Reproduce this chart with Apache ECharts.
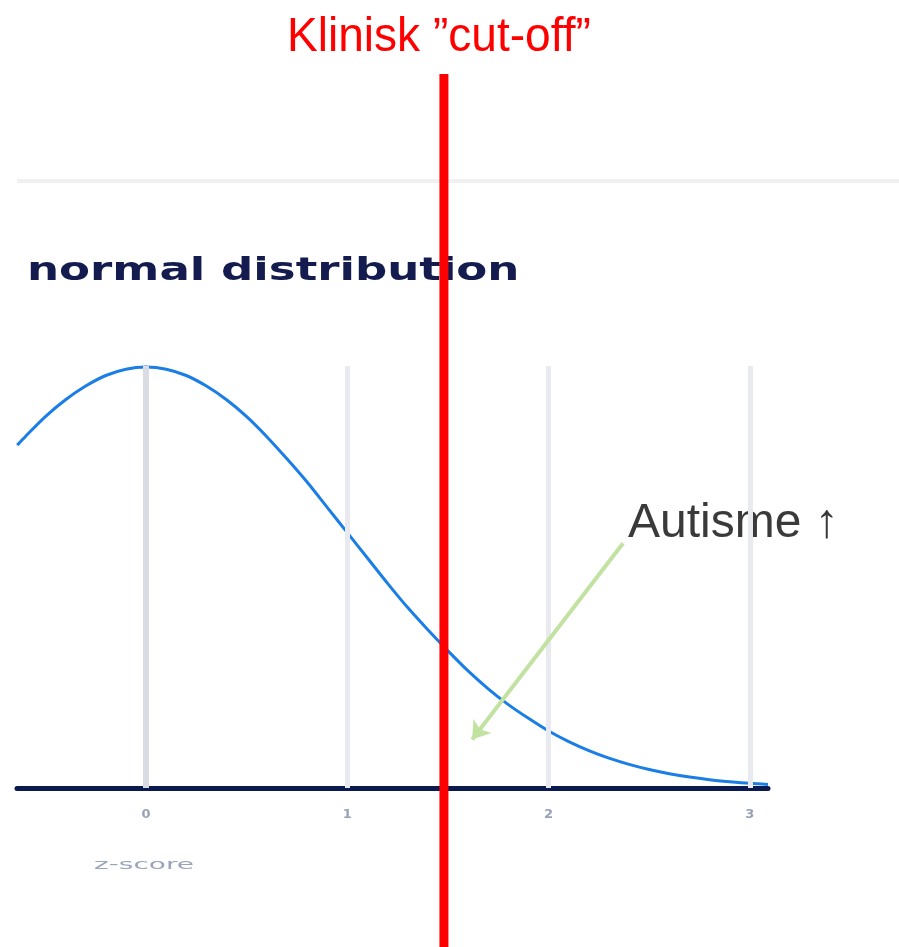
<!DOCTYPE html>
<html>
<head>
<meta charset="utf-8">
<script src="https://cdn.jsdelivr.net/npm/echarts@6/dist/echarts.min.js"></script>
<style>
  html, body { margin: 0; padding: 0; background: #fff; }
  #chart { width: 899px; height: 947px; }
</style>
</head>
<body>
<div id="chart"></div>
<script>
// z-score along the axis and the curve height
const zValues = [-0.64, -0.6, -0.5, -0.4, -0.3, -0.2, -0.1, 0, 0.1, 0.2, 0.3, 0.4, 0.5, 0.6, 0.7, 0.8, 0.9, 1.0,
  1.1, 1.2, 1.3, 1.4, 1.5, 1.6, 1.7, 1.8, 1.9, 2.0, 2.1, 2.2, 2.3, 2.4, 2.5, 2.6, 2.7, 2.8, 2.9, 3.0, 3.09]
const density = [0.325, 0.333, 0.352, 0.368, 0.381, 0.391, 0.397, 0.399, 0.397, 0.391, 0.381, 0.368, 0.352, 0.333, 0.312, 0.290, 0.266, 0.242,
  0.218, 0.194, 0.171, 0.150, 0.130, 0.111, 0.094, 0.079, 0.066, 0.054, 0.044, 0.0355, 0.0283, 0.0224, 0.0175, 0.0136, 0.0104, 0.0079, 0.006, 0.0044, 0.0034]
const tickValues = [0, 1, 2, 3]
const cutOff = 1.48
// annotation arrow, in data units
const arrowFrom = [2.37, 0.232]
const arrowTo = [1.62, 0.046]

const chart = echarts.init(document.getElementById('chart'))

chart.setOption({
  animation: false,
  grid: { left: 17, right: 131, top: 366, bottom: 159 },
  xAxis: {
    type: 'value',
    min: -0.641,
    max: 3.09,
    axisLine: { show: true, onZero: false, lineStyle: { color: '#0b1a4e', width: 5 } },
    axisTick: { show: false },
    splitLine: { show: false },
    axisLabel: {
      customValues: tickValues,
      margin: 20,
      fontSize: 13,
      fontWeight: 'bold',
      fontFamily: 'DejaVu Sans',
      color: '#97a2b8'
    }
  },
  yAxis: { type: 'value', min: 0, max: 0.4, show: false },
  series: [
    {
      // grid lines
      type: 'line',
      data: [],
      z: 1,
      markLine: {
        silent: true,
        symbol: 'none',
        label: { show: false },
        data: tickValues.map((v) => ({
          xAxis: v,
          lineStyle: { color: v === 0 ? '#d9dce3' : '#e9eaef', width: v === 0 ? 6 : 5, type: 'solid' }
        }))
      }
    },
    {
      // green arrow
      type: 'line',
      data: [],
      z: 3,
      markLine: {
        silent: true,
        symbol: ['none', 'arrow'],
        symbolSize: 17,
        label: { show: false },
        lineStyle: { color: '#c2e2a2', width: 4, type: 'solid' },
        data: [[{ coord: arrowFrom }, { coord: arrowTo }]]
      }
    },
    {
      type: 'line',
      z: 2,
      data: zValues.map((z, i) => [z, density[i]]),
      showSymbol: false,
      smooth: 0.3,
      lineStyle: { color: '#1a7ee6', width: 3 }
    }
  ]
})

const cutX = chart.convertToPixel({ xAxisIndex: 0 }, cutOff)

chart.setOption({
  graphic: [
    {
      type: 'rect',
      shape: { x: 17, y: 179, width: 882, height: 4 },
      style: { fill: '#f0f0f4' },
      silent: true
    },
    {
      type: 'text',
      x: 27, y: 272, scaleX: 1.41,
      style: { text: 'normal distribution', font: 'bold 32px "DejaVu Sans"', fill: '#141c4f', textAlign: 'left', textVerticalAlign: 'middle' }
    },
    {
      type: 'text',
      x: 94, y: 865, scaleX: 2,
      style: { text: 'z-score', font: '14px "DejaVu Sans"', fill: '#9aa4ba', textAlign: 'left', textVerticalAlign: 'middle' }
    },
    {
      type: 'line',
      z: 100,
      shape: { x1: cutX, y1: 74, x2: cutX, y2: 947 },
      style: { stroke: '#ff0000', lineWidth: 9 }
    },
    {
      type: 'text',
      x: cutX - 5, y: 38, scaleX: 0.96,
      style: { text: 'Klinisk \u201dcut-off\u201d', font: '48px "Liberation Sans"', fill: '#ff0000', textAlign: 'center', textVerticalAlign: 'middle' }
    },
    {
      type: 'text',
      x: 628, y: 524,
      style: { text: 'Autisme \u2191', font: '48px "Liberation Sans"', fill: '#3a3a3a', textAlign: 'left', textVerticalAlign: 'middle' }
    }
  ]
})
</script>
</body>
</html>
